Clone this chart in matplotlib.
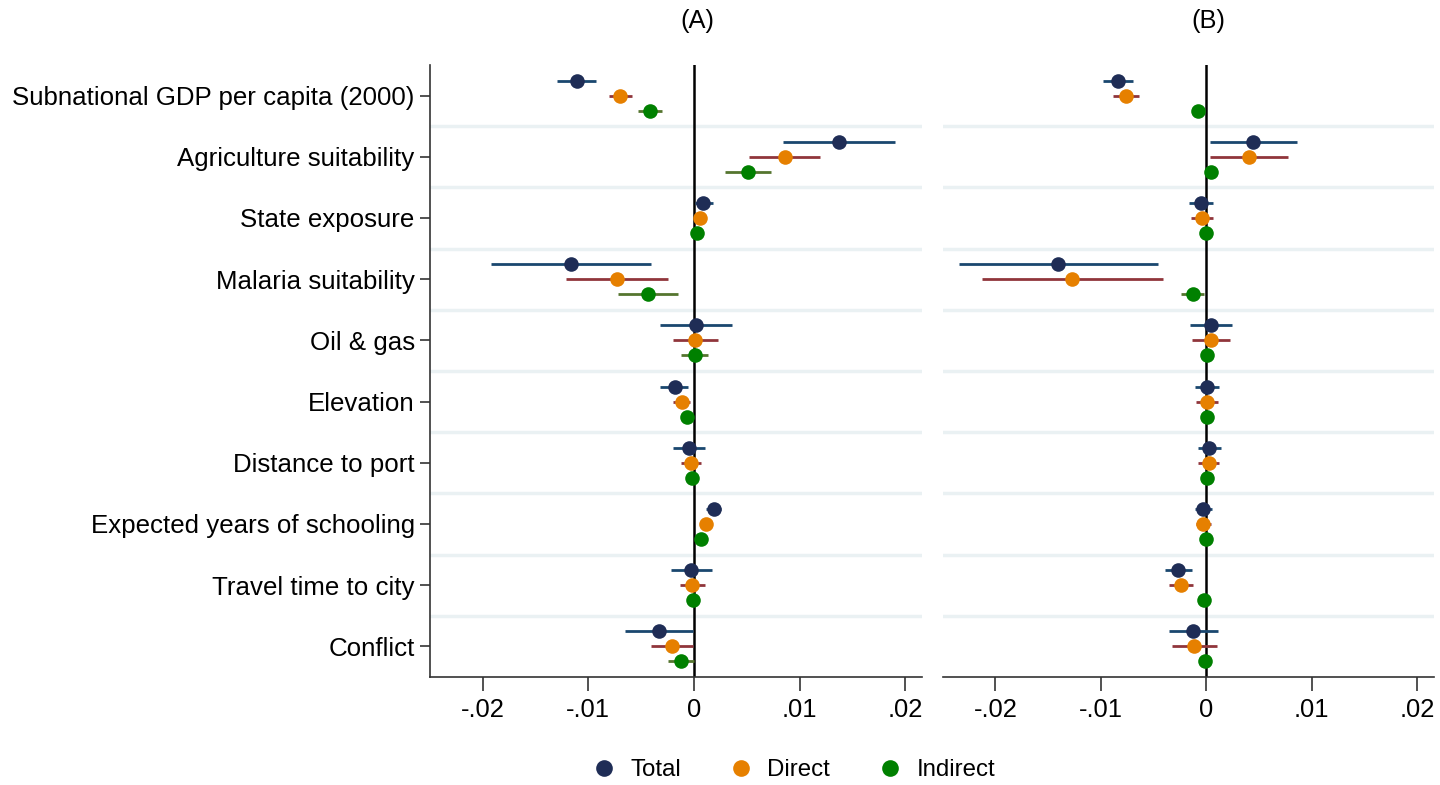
import matplotlib.pyplot as plt
from matplotlib.lines import Line2D

plt.rcParams['font.family'] = ['Liberation Sans', 'DejaVu Sans']

# variables, top to bottom
labels = ["Subnational GDP per capita (2000)", "Agriculture suitability",
          "State exposure", "Malaria suitability", "Oil & gas", "Elevation",
          "Distance to port", "Expected years of schooling",
          "Travel time to city", "Conflict"]

# panel A: point estimate, lower CI, upper CI
a_total = [-0.01111, 0.01370, 0.00088, -0.01168, 0.00016, -0.00183, -0.00050, 0.00186, -0.00025, -0.00331]
a_total_lo = [-0.01294, 0.00840, 0.00010, -0.01922, -0.00322, -0.00319, -0.00196, 0.00114, -0.00215, -0.00650]
a_total_hi = [-0.00928, 0.01900, 0.00177, -0.00410, 0.00357, -0.00054, 0.00101, 0.00259, 0.00167, -0.00006]
a_direct = [-0.00698, 0.00859, 0.00057, -0.00732, 0.00010, -0.00117, -0.00028, 0.00117, -0.00016, -0.00208]
a_direct_lo = [-0.00805, 0.00524, 0.00037, -0.01212, -0.00199, -0.00196, -0.00120, 0.00100, -0.00133, -0.00407]
a_direct_hi = [-0.00587, 0.01196, 0.00077, -0.00249, 0.00224, -0.00035, 0.00063, 0.00134, 0.00104, -0.00006]
a_indirect = [-0.00417, 0.00511, 0.00031, -0.00436, 0.00006, -0.00069, -0.00016, 0.00066, -0.00010, -0.00123]
a_indirect_lo = [-0.00527, 0.00290, 0.00021, -0.00720, -0.00120, -0.00090, -0.00030, 0.00056, -0.00020, -0.00243]
a_indirect_hi = [-0.00300, 0.00732, 0.00041, -0.00149, 0.00130, -0.00048, -0.00002, 0.00076, 0.00000, 0.00000]

# panel B
b_total = [-0.00841, 0.00446, -0.00047, -0.01404, 0.00045, 0.00007, 0.00026, -0.00028, -0.00269, -0.00126]
b_total_lo = [-0.00977, 0.00035, -0.00161, -0.02343, -0.00155, -0.00104, -0.00082, -0.00110, -0.00389, -0.00357]
b_total_hi = [-0.00698, 0.00858, 0.00066, -0.00461, 0.00244, 0.00120, 0.00137, 0.00057, -0.00139, 0.00108]
b_direct = [-0.00762, 0.00405, -0.00038, -0.01271, 0.00042, 0.00007, 0.00026, -0.00028, -0.00240, -0.00114]
b_direct_lo = [-0.00882, 0.00035, -0.00142, -0.02128, -0.00139, -0.00095, -0.00076, -0.00100, -0.00351, -0.00323]
b_direct_hi = [-0.00639, 0.00772, 0.00060, -0.00414, 0.00222, 0.00108, 0.00123, 0.00047, -0.00126, 0.00099]
b_indirect = [-0.00079, 0.00042, 0.00000, -0.00129, 0.00004, 0.00004, 0.00007, 0.00000, -0.00022, -0.00010]
b_indirect_lo = [-0.00089, 0.00032, -0.00010, -0.00243, -0.00006, -0.00006, -0.00003, -0.00010, -0.00032, -0.00020]
b_indirect_hi = [-0.00069, 0.00052, 0.00010, -0.00019, 0.00014, 0.00014, 0.00017, 0.00010, -0.00012, 0.00000]

xticks = [-0.02, -0.01, 0, 0.01, 0.02]
xticklabels = ["-.02", "-.01", "0", ".01", ".02"]

mk_col = ["#1f2d56", "#e68000", "#008000"]
ci_col = ["#1a476f", "#90353b", "#55752f"]
offsets = [-0.245, 0, 0.245]
names = ["Total", "Direct", "Indirect"]


def panel(ax, series):
    rows = range(1, len(labels) + 1)
    for k in range(len(labels) - 1):
        ax.axhline(k + 1.5, color="#eaf1f3", lw=2.5, zorder=0)
    ax.axvline(0, color="black", lw=1.8, zorder=1)
    for j, (est, lo, hi) in enumerate(series):
        y = [r + offsets[j] for r in rows]
        ax.hlines(y, lo, hi, color=ci_col[j], lw=2, zorder=2)
        ax.plot(est, y, "o", color=mk_col[j], ms=10.5, mew=0, zorder=3)
    ax.set_xlim(-0.025, 0.0216)
    ax.set_ylim(10.5, 0.5)
    ax.set_xticks(xticks)
    ax.set_xticklabels(xticklabels, fontsize=18.4)
    ax.tick_params(axis="x", length=10, width=1.2, pad=5, color="#333333")
    for s in ["top", "right"]:
        ax.spines[s].set_visible(False)
    ax.spines["bottom"].set_linewidth(1.2)
    ax.spines["bottom"].set_color("#333333")
    ax.spines["left"].set_linewidth(1.2)
    ax.spines["left"].set_color("#333333")


fig = plt.figure(figsize=(14.4, 7.85), dpi=100)
ax1 = fig.add_axes([0.2986, 0.1376, 0.3417, 0.7796])
ax2 = fig.add_axes([0.6547, 0.1376, 0.3412, 0.7796])

panel(ax1, [(a_total, a_total_lo, a_total_hi),
            (a_direct, a_direct_lo, a_direct_hi),
            (a_indirect, a_indirect_lo, a_indirect_hi)])
ax1.set_yticks(range(1, len(labels) + 1))
ax1.set_yticklabels(labels, fontsize=18.6)
ax1.tick_params(axis="y", length=7, width=1.2, pad=4, color="#333333")

panel(ax2, [(b_total, b_total_lo, b_total_hi),
            (b_direct, b_direct_lo, b_direct_hi),
            (b_indirect, b_indirect_lo, b_indirect_hi)])
ax2.set_yticks([])
ax2.spines["left"].set_visible(False)

fig.text(697 / 1440, 1 - 21 / 785, "(A)", ha="center", va="center", fontsize=18.4)
fig.text(1208 / 1440, 1 - 21 / 785, "(B)", ha="center", va="center", fontsize=18.4)

handles = [Line2D([], [], marker="o", ls="", color=mk_col[j], ms=12, mew=0) for j in range(3)]
fig.legend(handles, names, loc="center", bbox_to_anchor=(0.551, 0.019), ncol=3,
           frameon=False, fontsize=17.3, handlelength=1.0, handletextpad=0.6,
           columnspacing=2.0)

fig.savefig("out.png", dpi=100)
